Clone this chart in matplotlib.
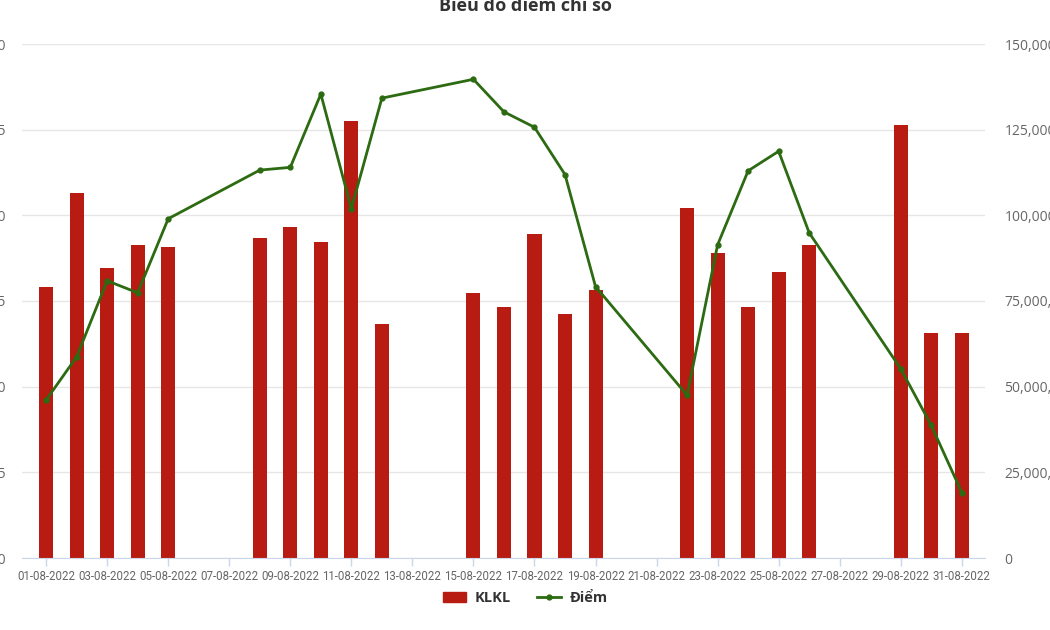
import matplotlib
matplotlib.use("Agg")
import matplotlib.pyplot as plt
from matplotlib.ticker import FuncFormatter
from matplotlib.lines import Line2D
from matplotlib.patches import Patch

# trading days in August 2022
days = [1, 2, 3, 4, 5, 8, 9, 10, 11, 12, 15, 16, 17, 18, 19,
        22, 23, 24, 25, 26, 29, 30, 31]

# KLKL (volume)
klkl = [79.2e6, 106.4e6, 84.6e6, 91.3e6, 90.7e6, 93.4e6, 96.5e6, 92.2e6,
        127.6e6, 68.3e6, 77.3e6, 73.2e6, 94.6e6, 71.2e6, 78.2e6, 102.1e6,
        89.1e6, 73.2e6, 83.5e6, 91.4e6, 126.5e6, 65.6e6, 65.6e6]

# Điểm (index points), left axis
diem = [1196.1, 1208.7, 1230.9, 1227.4, 1249.0, 1263.2, 1264.0, 1285.4,
        1251.9, 1284.2, 1289.7, 1280.2, 1275.7, 1261.9, 1229.2, 1197.5,
        1241.4, 1263.0, 1268.7, 1244.9, 1205.2, 1188.7, 1169.1]

tick_days = list(range(1, 32, 2))
tick_labels = ["%02d-08-2022" % d for d in tick_days]

bar_color = "#b71b11"
line_color = "#2c6b12"
grid_color = "#e6e6e6"
label_color = "#666666"

fig = plt.figure(figsize=(10.5, 6.3), dpi=100)
ax = fig.add_axes([22 / 1050, 1 - 558 / 630, 963 / 1050, 514 / 630])
ax2 = ax.twinx()

# bars on the main axes, scale shown on the right
ax.bar(days, klkl, width=0.46, color=bar_color, zorder=2)
ax.set_ylim(0, 150e6)
ax.set_yticks([0, 25e6, 50e6, 75e6, 100e6, 125e6, 150e6])
ax.yaxis.tick_right()
ax.yaxis.set_major_formatter(FuncFormatter(lambda v, p: "0" if v == 0 else "{:,.0f}".format(v)))
ax.grid(axis="y", color=grid_color, linewidth=1, zorder=0)
ax.set_axisbelow(True)
ax.tick_params(axis="y", length=0, pad=14, labelsize=10, labelcolor=label_color)

ax.set_xlim(0.21, 31.76)
ax.set_xticks(tick_days)
ax.set_xticklabels(tick_labels, fontfamily="Roboto", fontsize=8.3, color=label_color)
ax.tick_params(axis="x", length=6, width=1, color="#ccd6eb", pad=3)

for s in ["top", "left", "right"]:
    ax.spines[s].set_visible(False)
    ax2.spines[s].set_visible(False)
ax.spines["bottom"].set_color("#ccd6eb")
ax2.spines["bottom"].set_visible(False)

# line on the twin, scale shown on the left
ax2.plot(days, diem, color=line_color, linewidth=2, marker="o", markersize=3.5, zorder=3)
ax2.set_ylim(1150, 1300)
ax2.set_yticks([1150, 1175, 1200, 1225, 1250, 1275, 1300])
ax2.yaxis.tick_left()
ax2.yaxis.set_major_formatter(FuncFormatter(lambda v, p: "{:,.0f}".format(v)))
ax2.tick_params(axis="y", length=0, pad=11.5, labelsize=10, labelcolor=label_color)

for t in ax.get_yticklabels() + ax2.get_yticklabels():
    t.set_fontfamily("Open Sans")

fig.text(0.5, 1 - 6 / 630, "Biểu đồ điểm chỉ số", ha="center", va="center",
         fontsize=13, fontweight="bold", color="#333333", fontfamily="Open Sans")

handles = [Patch(facecolor=bar_color, edgecolor=bar_color),
           Line2D([0], [0], color=line_color, linewidth=2, marker="o", markersize=3.5)]
fig.legend(handles, ["KLKL", "Điểm"], loc="center", bbox_to_anchor=(0.5, 1 - 598 / 630),
           ncol=2, frameon=False, prop={"family": "Open Sans", "weight": "bold", "size": 10.5},
           handlelength=1.6, handletextpad=0.6, columnspacing=1.8, labelcolor="#333333")

fig.savefig("out.png", dpi=100)
